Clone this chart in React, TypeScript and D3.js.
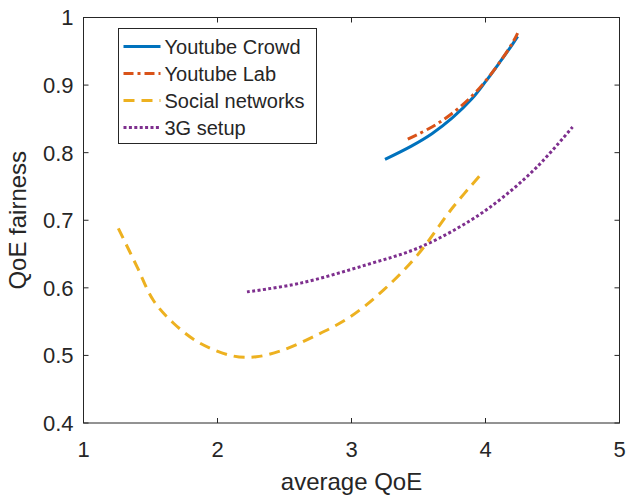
import React, { useEffect, useRef } from 'react';
import * as d3 from 'd3';

// values
const crowdX = [3.25, 3.45, 3.6, 3.75, 3.9, 4.0, 4.1, 4.2, 4.24];
const crowdY = [0.79, 0.81, 0.828, 0.851, 0.88, 0.905, 0.932, 0.96, 0.972];

const labX = [3.42, 3.6, 3.75, 3.9, 4.0, 4.1, 4.2, 4.24];
const labY = [0.82, 0.838, 0.858, 0.884, 0.906, 0.932, 0.962, 0.977];

const socialX = [1.26, 1.4, 1.52, 1.67, 1.87, 2.12, 2.29, 2.49, 2.74, 2.99, 3.24, 3.49, 3.76, 3.98];
const socialY = [0.688, 0.631, 0.582, 0.548, 0.518, 0.499, 0.498, 0.508, 0.53, 0.557, 0.597, 0.648, 0.72, 0.771];

const g3X = [2.22, 2.62, 3.11, 3.51, 3.89, 4.13, 4.385, 4.65];
const g3Y = [0.594, 0.607, 0.634, 0.66, 0.7, 0.734, 0.779, 0.838];

const xTicks = [1, 2, 3, 4, 5];
const yTicks = [0.4, 0.5, 0.6, 0.7, 0.8, 0.9, 1];

const seriesNames = ['Youtube Crowd', 'Youtube Lab', 'Social networks', '3G setup'];
const seriesColors = ['#0072BD', '#D95319', '#EDB120', '#7E2F8E'];
const seriesDash = ['none', '10,4,3,4', '11,7', '3,2.4'];

const textColor = '#262626';
const font = '"Liberation Sans", Arial, sans-serif';

export default function App() {
  const svgRef = useRef<SVGSVGElement>(null);

  useEffect(() => {
    const width = 627;
    const height = 496;
    const margin = { top: 17.5, right: 7.5, bottom: 73, left: 83.5 };
    const w = width - margin.left - margin.right;
    const h = height - margin.top - margin.bottom;

    const svg = d3.select(svgRef.current).attr('width', width).attr('height', height);
    svg.selectAll('*').remove();

    const g = svg.append('g').attr('transform', `translate(${margin.left},${margin.top})`);

    const x = d3.scaleLinear().domain([1, 5]).range([0, w]);
    const y = d3.scaleLinear().domain([0.4, 1]).range([h, 0]);

    const data = [
      d3.zip(crowdX, crowdY),
      d3.zip(labX, labY),
      d3.zip(socialX, socialY),
      d3.zip(g3X, g3Y),
    ];

    const line = d3
      .line<number[]>()
      .x((d) => x(d[0]))
      .y((d) => y(d[1]))
      .curve(d3.curveCatmullRom.alpha(0.5));

    // draw lines (3G and social first, youtube on top)
    [3, 2, 0, 1].forEach((i) => {
      g.append('path')
        .datum(data[i])
        .attr('d', line)
        .style('fill', 'none')
        .style('stroke', seriesColors[i])
        .style('stroke-width', 3)
        .style('stroke-dasharray', seriesDash[i]);
    });

    // box
    g.append('rect')
      .attr('width', w)
      .attr('height', h)
      .style('fill', 'none')
      .style('stroke', textColor)
      .style('stroke-width', 1);

    const tl = 5;
    xTicks.forEach((t) => {
      g.append('line').attr('x1', x(t)).attr('x2', x(t)).attr('y1', h).attr('y2', h - tl).style('stroke', textColor);
      g.append('line').attr('x1', x(t)).attr('x2', x(t)).attr('y1', 0).attr('y2', tl).style('stroke', textColor);
      g.append('text')
        .attr('x', x(t))
        .attr('y', h + 33.5)
        .attr('text-anchor', 'middle')
        .style('font-family', font)
        .style('font-size', '22px')
        .style('fill', textColor)
        .text(d3.format('d')(t));
    });

    yTicks.forEach((t) => {
      g.append('line').attr('x1', 0).attr('x2', tl).attr('y1', y(t)).attr('y2', y(t)).style('stroke', textColor);
      g.append('line').attr('x1', w).attr('x2', w - tl).attr('y1', y(t)).attr('y2', y(t)).style('stroke', textColor);
      g.append('text')
        .attr('x', -10)
        .attr('y', y(t))
        .attr('dy', '0.36em')
        .attr('text-anchor', 'end')
        .style('font-family', font)
        .style('font-size', '22px')
        .style('fill', textColor)
        .text(t === 1 ? '1' : d3.format('.1f')(t));
    });

    g.append('text')
      .attr('x', w / 2)
      .attr('y', h + 67)
      .attr('text-anchor', 'middle')
      .style('font-family', font)
      .style('font-size', '24px')
      .style('fill', textColor)
      .text('average QoE');

    g.append('text')
      .attr('transform', `translate(${-58},${h / 2}) rotate(-90)`)
      .attr('text-anchor', 'middle')
      .style('font-family', font)
      .style('font-size', '24px')
      .style('fill', textColor)
      .text('QoE fairness');

    // legend
    const lg = svg.append('g').attr('transform', 'translate(118.5,28.5)');
    lg.append('rect')
      .attr('width', 198)
      .attr('height', 115)
      .style('fill', '#fff')
      .style('stroke', textColor)
      .style('stroke-width', 1);

    seriesNames.forEach((name, i) => {
      const ry = 18 + i * 27;
      lg.append('line')
        .attr('x1', 5)
        .attr('x2', 42)
        .attr('y1', ry)
        .attr('y2', ry)
        .style('stroke', seriesColors[i])
        .style('stroke-width', 3)
        .style('stroke-dasharray', seriesDash[i]);
      lg.append('text')
        .attr('x', 46)
        .attr('y', ry)
        .attr('dy', '0.36em')
        .style('font-family', font)
        .style('font-size', '20px')
        .style('fill', textColor)
        .text(name);
    });
  }, []);

  return <svg ref={svgRef} style={{ position: 'absolute', left: 0, top: 0 }}></svg>;
}
